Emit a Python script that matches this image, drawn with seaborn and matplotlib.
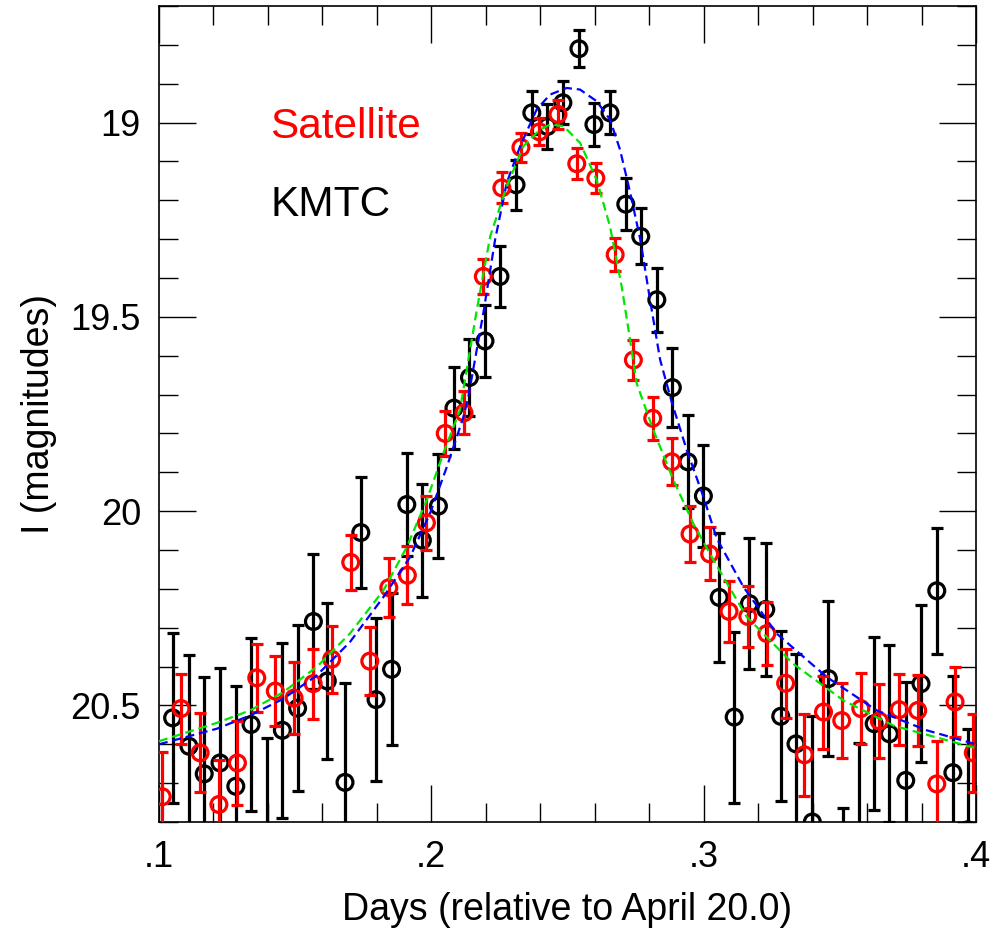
import numpy as np
import pandas as pd
import matplotlib
matplotlib.use("Agg")
import matplotlib.pyplot as plt
from matplotlib.ticker import MultipleLocator, FixedLocator, FuncFormatter
import seaborn as sns

# ---- data ----
sat_t = [0.1012, 0.1081, 0.1151, 0.1220, 0.1288, 0.1359, 0.1427, 0.1496, 0.1566, 0.1634,
         0.1704, 0.1774, 0.1844, 0.1912, 0.1982, 0.2051, 0.2120, 0.2191, 0.2259, 0.2329,
         0.2397, 0.2465, 0.2534, 0.2604, 0.2675, 0.2742, 0.2813, 0.2883, 0.2950, 0.3022,
         0.3093, 0.3162, 0.3232, 0.3301, 0.3370, 0.3440, 0.3507, 0.3577, 0.3645, 0.3718,
         0.3786, 0.3856, 0.3923, 0.3990]
sat_mag = [20.735, 20.508, 20.622, 20.755, 20.648, 20.429, 20.463, 20.481, 20.444, 20.381,
           20.132, 20.386, 20.197, 20.165, 20.030, 19.800, 19.747, 19.396, 19.168, 19.064,
           19.024, 18.979, 19.106, 19.143, 19.340, 19.611, 19.761, 19.873, 20.059, 20.110,
           20.258, 20.271, 20.315, 20.443, 20.627, 20.517, 20.539, 20.508, 20.540, 20.511,
           20.513, 20.702, 20.491, 20.622]
sat_err = [0.115, 0.090, 0.102, 0.115, 0.107, 0.088, 0.090, 0.092, 0.090, 0.086,
           0.070, 0.088, 0.076, 0.075, 0.069, 0.058, 0.055, 0.045, 0.040, 0.038,
           0.035, 0.037, 0.040, 0.039, 0.043, 0.052, 0.056, 0.060, 0.071, 0.068,
           0.079, 0.079, 0.081, 0.089, 0.106, 0.094, 0.096, 0.092, 0.095, 0.091,
           0.092, 0.110, 0.090, 0.100]

kmt_t = [0.1050, 0.1110, 0.1166, 0.1224, 0.1282, 0.1338, 0.1396, 0.1453, 0.1509, 0.1567,
         0.1618, 0.1683, 0.1741, 0.1797, 0.1854, 0.1910, 0.1967, 0.2026, 0.2083, 0.2140,
         0.2197, 0.2252, 0.2311, 0.2369, 0.2426, 0.2483, 0.2542, 0.2597, 0.2656, 0.2714,
         0.2769, 0.2828, 0.2885, 0.2942, 0.2999, 0.3057, 0.3112, 0.3168, 0.3228, 0.3283,
         0.3339, 0.3399, 0.3458, 0.3513, 0.3571, 0.3626, 0.3682, 0.3742, 0.3798, 0.3856,
         0.3915, 0.3970]
kmt_mag = [20.532, 20.605, 20.676, 20.648, 20.708, 20.549, 20.830, 20.564, 20.507, 20.284,
           20.437, 20.698, 20.055, 20.485, 20.407, 19.983, 20.075, 19.987, 19.735, 19.656,
           19.562, 19.396, 19.160, 18.975, 19.010, 18.949, 18.810, 19.005, 18.975, 19.210,
           19.293, 19.456, 19.682, 19.873, 19.961, 20.222, 20.530, 20.238, 20.253, 20.528,
           20.599, 20.800, 20.431, 21.000, 20.850, 20.547, 20.573, 20.693, 20.444, 20.205,
           20.673, 20.820]
kmt_err = [0.219, 0.235, 0.250, 0.244, 0.258, 0.222, 0.247, 0.225, 0.214, 0.174,
           0.201, 0.255, 0.142, 0.210, 0.196, 0.133, 0.145, 0.134, 0.105, 0.099,
           0.092, 0.079, 0.064, 0.055, 0.057, 0.055, 0.047, 0.056, 0.055, 0.067,
           0.072, 0.083, 0.101, 0.120, 0.131, 0.166, 0.220, 0.169, 0.171, 0.219,
           0.232, 0.272, 0.200, 0.236, 0.253, 0.222, 0.228, 0.253, 0.202, 0.162,
           0.248, 0.260]

kmt_model_t = [0.1000, 0.1212, 0.1334, 0.1456, 0.1579, 0.1701, 0.1824, 0.1922, 0.1995, 0.2057,
               0.2118, 0.2136, 0.2191, 0.2234, 0.2277, 0.2326, 0.2387, 0.2436, 0.2497, 0.2546,
               0.2607, 0.2656, 0.2693, 0.2730, 0.2767, 0.2803, 0.2840, 0.2883, 0.2938, 0.2999,
               0.3048, 0.3146, 0.3268, 0.3452, 0.3636, 0.3819, 0.4000]
kmt_model_mag = [20.600, 20.560, 20.526, 20.483, 20.423, 20.337, 20.221, 20.118, 20.006, 19.886,
                 19.757, 19.705, 19.490, 19.302, 19.155, 19.061, 18.966, 18.928, 18.911, 18.915,
                 18.945, 18.992, 19.070, 19.180, 19.300, 19.456, 19.610, 19.720, 19.843, 19.963,
                 20.070, 20.195, 20.315, 20.427, 20.513, 20.564, 20.600]

sat_model_t = [0.1000, 0.1212, 0.1334, 0.1456, 0.1579, 0.1701, 0.1824, 0.1910, 0.1983, 0.2044,
               0.2105, 0.2167, 0.2216, 0.2277, 0.2338, 0.2399, 0.2436, 0.2485, 0.2546, 0.2607,
               0.2656, 0.2699, 0.2730, 0.2754, 0.2815, 0.2889, 0.2962, 0.3036, 0.3158, 0.3329,
               0.3513, 0.3697, 0.4000]
sat_model_mag = [20.592, 20.545, 20.513, 20.466, 20.401, 20.315, 20.204, 20.092, 19.972, 19.851,
                 19.740, 19.482, 19.293, 19.164, 19.061, 19.018, 19.005, 19.009, 19.052, 19.147,
                 19.267, 19.422, 19.560, 19.671, 19.791, 19.920, 20.032, 20.126, 20.272, 20.393,
                 20.487, 20.552, 20.610]

x_ticks = [0.1, 0.2, 0.3, 0.4]
y_ticks = [19.0, 19.5, 20.0, 20.5]
y_tick_labels = ["19", "19.5", "20", "20.5"]

# ---- style ----
sns.set_theme(style="white")
plt.rcParams['font.family'] = ['Liberation Sans', 'DejaVu Sans']

fig = plt.figure(figsize=(9.95, 9.36), dpi=100)
ax = fig.add_axes([159/995, 1 - 822/936, (976-159)/995, (822-6)/936])

RED = "#ff0000"
BLUE = "#0000ff"
GREEN = "#00e600"

# error bars
ax.errorbar(kmt_t, kmt_mag, yerr=kmt_err, fmt='none', ecolor='black',
            elinewidth=2.3, capsize=4.5, capthick=2.3, zorder=2)
ax.errorbar(sat_t, sat_mag, yerr=sat_err, fmt='none', ecolor=RED,
            elinewidth=2.3, capsize=4.5, capthick=2.3, zorder=3)

kdf = pd.DataFrame({"t": kmt_t, "mag": kmt_mag})
sdf = pd.DataFrame({"t": sat_t, "mag": sat_mag})
sns.scatterplot(data=kdf, x="t", y="mag", ax=ax, marker='o', s=130,
                facecolor='none', edgecolor='black', linewidth=2.3, zorder=2.5)
sns.scatterplot(data=sdf, x="t", y="mag", ax=ax, marker='o', s=130,
                facecolor='none', edgecolor=RED, linewidth=2.3, zorder=3.5)

kmdf = pd.DataFrame({"t": kmt_model_t, "mag": kmt_model_mag})
smdf = pd.DataFrame({"t": sat_model_t, "mag": sat_model_mag})
sns.lineplot(data=kmdf, x="t", y="mag", ax=ax, color=BLUE, lw=1.6,
             dashes=False, zorder=4, sort=False).lines[-1].set_dashes((4, 2.2))
sns.lineplot(data=smdf, x="t", y="mag", ax=ax, color=GREEN, lw=1.6,
             dashes=False, zorder=4, sort=False).lines[-1].set_dashes((4, 2.2))

ax.set_xlim(0.1, 0.4)
ax.set_ylim(20.8, 18.7)

ax.xaxis.set_major_locator(FixedLocator(x_ticks))
ax.xaxis.set_minor_locator(MultipleLocator(0.02))
ax.xaxis.set_major_formatter(FuncFormatter(lambda v, p: f"{v:.1f}".lstrip('0')))
ax.yaxis.set_major_locator(FixedLocator(y_ticks))
ax.yaxis.set_minor_locator(MultipleLocator(0.1))
ax.set_yticklabels(y_tick_labels)

ax.tick_params(which='major', direction='in', length=26.5, width=1.0, color='black',
               top=True, right=True, bottom=True, left=True, labelsize=26, pad=13,
               labelcolor='black')
ax.tick_params(which='minor', direction='in', length=13.5, width=1.0, color='black',
               top=True, right=True, bottom=True, left=True)

for s in ax.spines.values():
    s.set_color('black')
    s.set_linewidth(1.2)

ax.set_xlabel("Days (relative to April 20.0)", fontsize=27, color='black', labelpad=12)
ax.set_ylabel("I (magnitudes)", fontsize=27, color='black', labelpad=10)

ax.text(0.136, 0.838, "Satellite", transform=ax.transAxes, color=RED,
        fontsize=30.5, va='baseline', ha='left')
ax.text(0.136, 0.7426, "KMTC", transform=ax.transAxes, color='black',
        fontsize=30.5, va='baseline', ha='left')

fig.savefig("out.png", dpi=100)
